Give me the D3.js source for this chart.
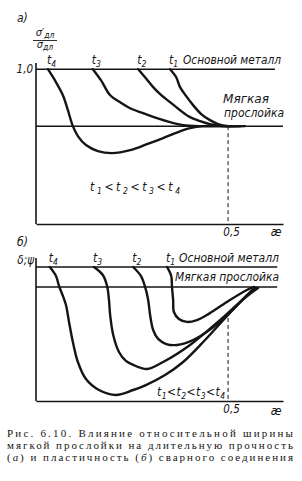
<!DOCTYPE html>
<html><head><meta charset="utf-8">
<script src="https://cdn.jsdelivr.net/npm/d3@7"></script>
<style>body{margin:0;background:#fff}svg{display:block}</style>
</head><body>
<svg id="c" width="302" height="481"></svg>
<script>
// ---------- data ----------
// panel a: relative long-term strength vs relative layer width (x = æ)
const t1A=[[0.349,1.0],[0.365,0.948],[0.375,0.884],[0.391,0.826],[0.409,0.768],[0.430,0.710],[0.453,0.671],[0.474,0.645],[0.5,0.632],[0.544,0.632]];
const t2A=[[0.266,1.0],[0.286,0.942],[0.305,0.884],[0.326,0.832],[0.349,0.787],[0.375,0.735],[0.401,0.690],[0.427,0.665],[0.453,0.645],[0.484,0.632],[0.531,0.632]];
const t3A=[[0.148,1.0],[0.169,0.929],[0.193,0.832],[0.219,0.787],[0.245,0.748],[0.279,0.716],[0.315,0.684],[0.349,0.658],[0.383,0.639],[0.427,0.632],[0.505,0.632]];
const t4A=[[0.031,1.0],[0.049,0.929],[0.070,0.832],[0.083,0.735],[0.096,0.632],[0.109,0.568],[0.130,0.510],[0.161,0.471],[0.198,0.458],[0.245,0.477],[0.289,0.516],[0.331,0.555],[0.370,0.594],[0.401,0.619],[0.435,0.632],[0.505,0.632]];
// panel b: plasticity
const t1B=[[0.341,1.0],[0.352,0.933],[0.354,0.851],[0.357,0.754],[0.359,0.664],[0.372,0.612],[0.393,0.590],[0.419,0.604],[0.445,0.642],[0.497,0.739],[0.549,0.828],[0.568,0.851]];
const t2B=[[0.253,1.0],[0.273,0.933],[0.284,0.851],[0.292,0.754],[0.297,0.642],[0.305,0.530],[0.318,0.463],[0.339,0.425],[0.367,0.418],[0.409,0.455],[0.479,0.590],[0.557,0.813],[0.570,0.843]];
const t3B=[[0.151,1.0],[0.174,0.940],[0.185,0.858],[0.190,0.754],[0.193,0.642],[0.201,0.493],[0.216,0.366],[0.234,0.299],[0.253,0.269],[0.289,0.239],[0.331,0.291],[0.401,0.418],[0.479,0.604],[0.531,0.739],[0.573,0.843]];
const t4B=[[0.036,1.0],[0.052,0.933],[0.060,0.858],[0.070,0.784],[0.078,0.716],[0.086,0.590],[0.096,0.440],[0.109,0.291],[0.130,0.164],[0.164,0.082],[0.208,0.045],[0.253,0.082],[0.286,0.119],[0.336,0.194],[0.383,0.291],[0.440,0.455],[0.5,0.642],[0.544,0.769],[0.578,0.843]];
const curveNames=["1","2","3","4"];
const levelsA=[1.0,0.632];      // base metal, soft layer
const levelsB=[1.0,0.851];
const xTickValues=[0.5];
const xTickLabels=["0,5"];
const yTickValuesA=[1.0];
const yTickLabelsA=["1,0"];
const baseMetalText="Основной металл";
const softLayerWords=["Мягкая","прослойка"];
const captionLines=["Рис. 6.10. Влияние относительной ширины","мягкой прослойки на длительную прочность"];

// ---------- drawing ----------
const svg=d3.select("#c");
const ink="#151515";
const lab="'Liberation Sans Narrow','DejaVu Sans Condensed','DejaVu Sans',sans-serif";
const x=d3.scaleLinear().domain([0,0.643]).range([36,283]);
const yA=d3.scaleLinear().domain([0,1.04]).range([224,63]);
const yB=d3.scaleLinear().domain([0,1.067]).range([401,258]);

function txt(g,xp,yp,s,size,anchor){
  return g.append("text").attr("x",xp).attr("y",yp).attr("font-family",lab).attr("font-style","italic")
    .attr("font-size",size).attr("fill",ink).attr("text-anchor",anchor||"start").text(s);
}
function tLabel(g,xp,yp,n){
  const t=g.append("text").attr("x",xp).attr("y",yp).attr("font-family",lab).attr("font-style","italic")
    .attr("font-size",12).attr("fill",ink);
  t.append("tspan").text("t");
  t.append("tspan").attr("font-size",8.5).attr("dy",3).text(n);
  return t;
}
function orderLabel(g,xp,yp,w){
  const t=g.append("text").attr("x",xp).attr("y",yp).attr("font-family",lab).attr("font-style","italic")
    .attr("font-size",12).attr("fill",ink).attr("textLength",w).attr("lengthAdjust","spacing");
  curveNames.forEach((n,i)=>{
    t.append("tspan").attr("dy",i===0?0:-3).text((i? "<":"")+"t");
    t.append("tspan").attr("font-size",8.5).attr("dy",3).text(n);
  });
}
const line=d3.line().x(d=>x(d[0])).curve(d3.curveCatmullRom.alpha(0.5));

function panel(y,levels,levelEnds,curves,yTop,xTickBaseline){
  const g=svg.append("g");
  const ax=d3.axisBottom(x).tickValues(xTickValues).tickFormat((d,i)=>xTickLabels[i]).tickSize(0).tickSizeOuter(0).tickPadding(4);
  const xa=g.append("g").attr("transform",`translate(0,${y(0)})`).call(ax);
  xa.select(".domain").attr("stroke",ink).attr("stroke-width",1.6);
  xa.selectAll("text").attr("font-family",lab).attr("font-style","italic").attr("font-size",11.5).attr("fill",ink).attr("dx",3);
  g.append("line").attr("x1",x(0)).attr("x2",x(0)).attr("y1",y(0)).attr("y2",y(yTop)).attr("stroke",ink).attr("stroke-width",1.6);
  levels.forEach((v,i)=>g.append("line").attr("x1",x(0)).attr("x2",x(levelEnds[i])).attr("y1",y(v)).attr("y2",y(v))
    .attr("stroke",ink).attr("stroke-width",1.5));
  curves.forEach(c=>g.append("path").attr("d",line.y(d=>y(d[1]))(c)).attr("fill","none")
    .attr("stroke",ink).attr("stroke-width",2.4).attr("stroke-linejoin","round").attr("stroke-linecap","round"));
  txt(g,x(0.625),xTickBaseline,"æ",12,"middle");
  return g;
}

// ----- panel a -----
const gA=panel(yA,levelsA,[0.622,0.643],[t1A,t2A,t3A,t4A],1.04,236);
gA.append("line").attr("x1",x(0.5)).attr("x2",x(0.5)).attr("y1",yA(levelsA[1])).attr("y2",yA(0))
  .attr("stroke",ink).attr("stroke-width",1).attr("stroke-dasharray","4,3");
const ya=d3.axisLeft(yA).tickValues(yTickValuesA).tickFormat((d,i)=>yTickLabelsA[i]).tickSize(0).tickPadding(3);
const yag=gA.append("g").attr("transform",`translate(${x(0)},0)`).call(ya);
yag.select(".domain").remove();
yag.selectAll("text").attr("font-family",lab).attr("font-style","italic").attr("font-size",11.5).attr("fill",ink);
txt(gA,17,22,"а)",12);
{
  const n=gA.append("text").attr("x",45).attr("y",36).attr("text-anchor","middle").attr("font-family",lab).attr("font-style","italic").attr("font-size",11).attr("fill",ink);
  n.append("tspan").text("σ′");n.append("tspan").attr("font-size",8.5).attr("dy",2).text("дл");
  gA.append("line").attr("x1",33).attr("x2",57).attr("y1",40.5).attr("y2",40.5).attr("stroke",ink).attr("stroke-width",0.9);
  const d=gA.append("text").attr("x",45).attr("y",48).attr("text-anchor","middle").attr("font-family",lab).attr("font-style","italic").attr("font-size",11).attr("fill",ink);
  d.append("tspan").text("σ");d.append("tspan").attr("font-size",8.5).attr("dy",2).text("дл");
}
[t1A,t2A,t3A,t4A].forEach((c,i)=>tLabel(gA,x(c[0][0])-1,yA(1)-5,curveNames[i]));
txt(gA,183,yA(1)-5,baseMetalText,11.5).attr("textLength",98).attr("lengthAdjust","spacingAndGlyphs");
txt(gA,223,103,softLayerWords[0],11.5).attr("textLength",46).attr("lengthAdjust","spacingAndGlyphs");
txt(gA,224,117,softLayerWords[1],11.5).attr("textLength",60).attr("lengthAdjust","spacingAndGlyphs");
orderLabel(gA,90,191,90);

// ----- panel b -----
const gB=panel(yB,levelsB,[0.628,0.628],[t1B,t2B,t3B,t4B],1.067,415);
gB.append("line").attr("x1",x(0.5)).attr("x2",x(0.5)).attr("y1",yB(0.62)).attr("y2",yB(0))
  .attr("stroke",ink).attr("stroke-width",1).attr("stroke-dasharray","4,3");
txt(gB,17,246,"б)",12);
txt(gB,34,264,"δ;ψ",11.5,"end");
[t1B,t2B,t3B,t4B].forEach((c,i)=>tLabel(gB,x(c[0][0])-1,yB(1)-5,curveNames[i]));
txt(gB,179,yB(1)-5,baseMetalText,11.5).attr("textLength",100).attr("lengthAdjust","spacingAndGlyphs");
txt(gB,175,281,softLayerWords.join(" "),11.5).attr("textLength",104).attr("lengthAdjust","spacingAndGlyphs");
orderLabel(gB,157,396,68);

// ----- caption -----
const cap=svg.append("g").attr("font-family","'Liberation Serif','DejaVu Serif',serif").attr("font-size",11).attr("fill",ink);
captionLines.forEach((s,i)=>cap.append("text").attr("x",7).attr("y",437+i*12).attr("textLength",286).attr("lengthAdjust","spacing").text(s));
{
  const t=cap.append("text").attr("x",7).attr("y",461).attr("textLength",286).attr("lengthAdjust","spacing");
  t.append("tspan").text("(");t.append("tspan").attr("font-style","italic").text("а");
  t.append("tspan").text(") и пластичность (");t.append("tspan").attr("font-style","italic").text("б");
  t.append("tspan").text(") сварного соединения");
}
</script>
</body></html>
